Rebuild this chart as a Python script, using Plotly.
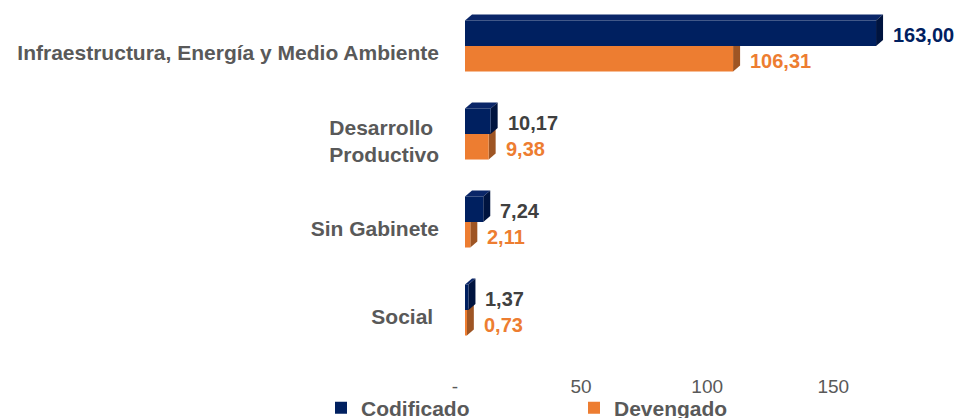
import plotly.graph_objects as go

# ---- data ----
categories = ["Infraestructura, Energía y Medio Ambiente",
              "Desarrollo\u00a0<br>Productivo",
              "Sin Gabinete",
              "Social\u00a0"]
codificado = [163.00, 10.17, 7.24, 1.37]
devengado = [106.31, 9.38, 2.11, 0.73]
cod_labels = ["163,00", "10,17", "7,24", "1,37"]
dev_labels = ["106,31", "9,38", "2,11", "0,73"]
tick_vals = [0, 50, 100, 150]
tick_text = ["-", "50", "100", "150"]

# ---- style ----
NAVY = "#002060"
NAVY_TOP = "#0a2668"
NAVY_SIDE = "#00143f"
ORANGE = "#ED7D31"
ORANGE_SIDE = "#9E5524"
GRAY = "#595959"
DARK = "#404040"
FONT = "Liberation Sans, Arial, sans-serif"

W, H = 958, 418
ML, MR, MT, MB = 465, 0, 2, 64
XMAX = 195.5
BW = 0.29  # bar thickness (category units)

pos = list(range(len(categories)))
px_x = (W - ML - MR) / XMAX
px_y = (H - MT - MB) / len(categories)
DX = 7 / px_x
DY = 6 / px_y

fig = go.Figure()
fig.add_trace(go.Bar(name="Codificado", x=codificado, y=pos, orientation="h",
                     width=BW, offset=-BW, marker=dict(color=NAVY, line=dict(width=0)),
                     hoverinfo="skip", legend="legend"))
fig.add_trace(go.Bar(name="Devengado", x=devengado, y=pos, orientation="h",
                     width=BW, offset=0, marker=dict(color=ORANGE, line=dict(width=0)),
                     hoverinfo="skip", legend="legend2"))

shapes = []
for p, v in zip(pos, devengado):
    yt, yb = p, p + BW
    shapes.append(dict(type="path", layer="below", line=dict(width=0), fillcolor=ORANGE_SIDE,
                       path=f"M{v},{yt} L{v+DX},{yt-DY} L{v+DX},{yb-DY} L{v},{yb} Z"))
for p, v in zip(pos, codificado):
    yt, yb = p - BW, p
    shapes.append(dict(type="path", layer="below", line=dict(width=0), fillcolor=NAVY_TOP,
                       path=f"M0,{yt} L{DX},{yt-DY} L{v+DX},{yt-DY} L{v},{yt} Z"))
    shapes.append(dict(type="path", layer="below", line=dict(width=0), fillcolor=NAVY_SIDE,
                       path=f"M{v},{yt} L{v+DX},{yt-DY} L{v+DX},{yb-DY} L{v},{yb} Z"))

annotations = []
for i, (p, v, t) in enumerate(zip(pos, codificado, cod_labels)):
    annotations.append(dict(x=v, y=p - BW / 2, text=t, showarrow=False, xanchor="left",
                            xshift=15, yshift=-2,
                            font=dict(family=FONT, size=20, color=NAVY if i == 0 else DARK, weight="bold")))
for p, v, t in zip(pos, devengado, dev_labels):
    annotations.append(dict(x=v, y=p + BW / 2, text=t, showarrow=False, xanchor="left",
                            xshift=15, yshift=-2,
                            font=dict(family=FONT, size=20, color=ORANGE, weight="bold")))

legend_style = dict(orientation="h", xref="container", yref="container",
                    y=(H - 408) / H, xanchor="left", yanchor="middle",
                    font=dict(family=FONT, size=21, color=GRAY, weight="bold"),
                    itemclick=False, bgcolor="rgba(0,0,0,0)")

fig.update_layout(
    width=W, height=H,
    margin=dict(l=ML, r=MR, t=MT, b=MB, autoexpand=False),
    paper_bgcolor="white", plot_bgcolor="white",
    barmode="overlay",
    shapes=shapes, annotations=annotations,
    font=dict(family=FONT, color=GRAY),
    xaxis=dict(range=[0, XMAX], showgrid=False, zeroline=False, showline=False,
               tickvals=tick_vals, ticktext=tick_text, ticks="", automargin=False,
               tickfont=dict(family=FONT, size=19, color=GRAY),
               ticklabelshift=-10, ticklabelstandoff=19, fixedrange=True),
    yaxis=dict(range=[len(categories) - 0.5, -0.5], showgrid=False, zeroline=False,
               showline=False, tickvals=pos, ticktext=categories, ticks="", automargin=False,
               tickfont=dict(family=FONT, size=21, color=GRAY, weight="bold"),
               ticklabelstandoff=25, ticklabelshift=-7, fixedrange=True),
    legend=dict(x=321 / W, **legend_style),
    legend2=dict(x=574 / W, **legend_style),
    showlegend=True,
)

fig.write_html("out.html", config={"displayModeBar": False},
               post_script="document.body.style.margin='0';document.body.style.padding='0';")
